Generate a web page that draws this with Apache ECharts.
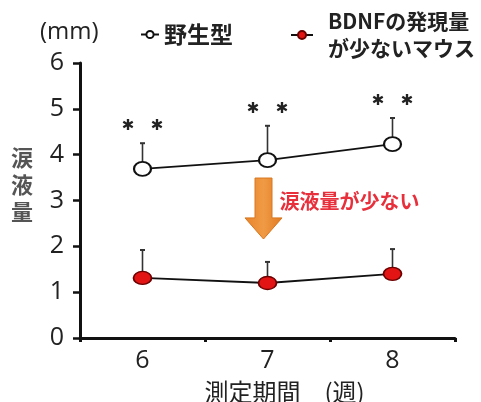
<!DOCTYPE html>
<html>
<head>
<meta charset="utf-8">
<script src="https://cdn.jsdelivr.net/npm/echarts@6/dist/echarts.min.js"></script>
<style>
html,body{margin:0;padding:0;background:#fff;}
#chart{width:481px;height:402px;}
</style>
</head>
<body>
<div id="chart"></div>
<script>
// ---- data ----
const weeks = ['6', '7', '8'];
const wildName = '野生型';
const bdnfName = 'BDNFの発現量\nが少ないマウス';
const wildMean = [3.69, 3.88, 4.23];
const wildTop = [4.25, 4.63, 4.80];      // mean + error
const bdnfMean = [1.31, 1.20, 1.40];
const bdnfTop = [1.92, 1.66, 1.94];      // mean + error
const signif = ['**', '**', '**'];
const yTicks = [0, 1, 2, 3, 4, 5, 6];
const arrowRange = [3.49, 2.62, 2.16];   // shaft top, head top, tip (y values) at week 7
const arrowLabel = '涙液量が少ない';
const arrowLabelY = 2.99;

const CJK = '"Noto Sans CJK JP", "Noto Sans", sans-serif';
const NUM = '"Open Sans", "Noto Sans", sans-serif';

const chart = echarts.init(document.getElementById('chart'));

function errRender(showStars) {
  return function (params, api) {
    const x = api.value(0);
    const base = api.coord([x, api.value(1)]);
    const top = api.coord([x, api.value(2)]);
    const children = [
      { type: 'line', shape: { x1: base[0], y1: base[1], x2: top[0], y2: top[1] },
        style: { stroke: '#333', lineWidth: 1.6 } },
      { type: 'line', shape: { x1: top[0] - 2.5, y1: top[1], x2: top[0] + 2.5, y2: top[1] },
        style: { stroke: '#333', lineWidth: 2 } }
    ];
    if (showStars) {
      const s = signif[params.dataIndex] || '';
      const n = s.length;
      for (let i = 0; i < n; i++) {
        const off = (i - (n - 1) / 2) * 29;
        children.push({ type: 'text', x: top[0] + off, y: top[1] - 17,
          style: { text: '✱', fill: '#222', font: '15px "DejaVu Sans", sans-serif',
                   align: 'center', verticalAlign: 'middle' } });
      }
    }
    return { type: 'group', children: children };
  };
}

const staticGraphics = [
  { type: 'text', left: 40, top: 20,
    style: { text: '(mm)', font: '24px ' + NUM, fill: '#222' } },
  { type: 'text', x: 22, y: 185,
    style: { text: '涙\n液\n量', font: 'bold 22px ' + CJK, fill: '#555', lineHeight: 27,
             align: 'center', verticalAlign: 'middle' } }
];

const option = {
  animation: false,
  backgroundColor: '#fff',
  grid: { left: 80, right: 26, top: 63, bottom: 64, outerBoundsMode: 'none', containLabel: false },
  legend: [
    { data: [wildName], left: 140, top: 23, padding: 0, itemWidth: 18, itemHeight: 9,
      textStyle: { fontFamily: CJK, fontSize: 23, fontWeight: 'bold', color: '#222' } },
    { data: [bdnfName], left: 290, top: 8, padding: 0, itemWidth: 22, itemHeight: 10,
      textStyle: { fontFamily: CJK, fontSize: 21, fontWeight: 'bold', color: '#222',
                   lineHeight: 27, padding: [0, 0, 0, 10] } }
  ],
  xAxis: {
    type: 'category',
    data: weeks,
    boundaryGap: true,
    name: '測定期間　(週)',
    nameLocation: 'middle',
    nameGap: 42,
    nameTextStyle: { fontFamily: CJK, fontSize: 24, color: '#222', padding: [0, 0, 0, 34] },
    axisLine: { lineStyle: { color: '#111', width: 3 } },
    axisTick: { show: true, length: 4, lineStyle: { color: '#111', width: 3 } },
    axisLabel: { fontFamily: NUM, fontSize: 25, color: '#222', margin: 10 }
  },
  yAxis: {
    type: 'value',
    min: yTicks[0],
    max: yTicks[yTicks.length - 1],
    interval: 1,
    splitLine: { show: false },
    axisLine: { show: true, lineStyle: { color: '#111', width: 3 } },
    axisTick: { show: true, length: 7, lineStyle: { color: '#111', width: 2.5 } },
    axisLabel: { fontFamily: NUM, fontSize: 25, color: '#222', margin: 16 }
  },
  graphic: staticGraphics,
  series: [
    { type: 'custom', name: 'errWild', renderItem: errRender(true), z: 1,
      data: weeks.map((w, i) => [i, wildMean[i], wildTop[i]]), silent: true },
    { type: 'custom', name: 'errBdnf', renderItem: errRender(false), z: 1,
      data: weeks.map((w, i) => [i, bdnfMean[i], bdnfTop[i]]), silent: true },
    { type: 'line', name: wildName, data: wildMean, z: 3,
      symbol: 'circle', symbolSize: [17, 14],
      itemStyle: { color: '#fff', borderColor: '#111', borderWidth: 2 },
      lineStyle: { color: '#111', width: 1.8 } },
    { type: 'line', name: bdnfName, data: bdnfMean, z: 3,
      symbol: 'circle', symbolSize: [18, 13],
      itemStyle: { color: '#e31414', borderColor: '#6a0000', borderWidth: 1.5 },
      lineStyle: { color: '#111', width: 1.8 } }
  ]
};

chart.setOption(option);

// arrow annotation anchored to data coordinates
const pTop = chart.convertToPixel({ xAxisIndex: 0, yAxisIndex: 0 }, ['7', arrowRange[0]]);
const pHead = chart.convertToPixel({ xAxisIndex: 0, yAxisIndex: 0 }, ['7', arrowRange[1]]);
const pTip = chart.convertToPixel({ xAxisIndex: 0, yAxisIndex: 0 }, ['7', arrowRange[2]]);
const pLab = chart.convertToPixel({ xAxisIndex: 0, yAxisIndex: 0 }, ['7', arrowLabelY]);
const cx = pTop[0] - 4;
const sw = 8.5, hw = 18.5;
chart.setOption({
  graphic: staticGraphics.concat([
    { type: 'polygon', z: 5,
      shape: { points: [
        [cx - sw, pTop[1]], [cx + sw, pTop[1]], [cx + sw, pHead[1]], [cx + hw, pHead[1]],
        [cx, pTip[1]], [cx - hw, pHead[1]], [cx - sw, pHead[1]] ] },
      style: { fill: new echarts.graphic.LinearGradient(0, 0, 1, 0, [
        { offset: 0, color: '#E8842A' }, { offset: 0.5, color: '#F09A45' }, { offset: 1, color: '#E07B22' }]),
        stroke: '#D9761E', lineWidth: 1 } },
    { type: 'text', z: 5, x: cx + 16, y: pLab[1],
      style: { text: arrowLabel, font: 'bold 20px ' + CJK, fill: '#E8303C',
               align: 'left', verticalAlign: 'middle' } }
  ])
});
</script>
</body>
</html>
